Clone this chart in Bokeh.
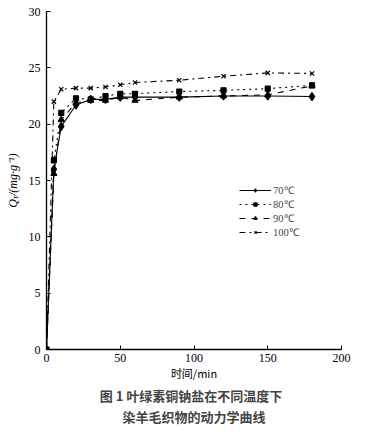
from bokeh.plotting import figure
from bokeh.models import Legend, LegendItem, Title, FixedTicker
from bokeh.embed import file_html
from bokeh.resources import INLINE

time_min = [0, 5, 10, 20, 30, 40, 50, 60, 90, 120, 150, 180]
q_70 = [0, 16.0, 19.8, 21.7, 22.2, 22.2, 22.4, 22.4, 22.4, 22.5, 22.5, 22.45]
q_80 = [0, 16.8, 21.0, 22.3, 22.2, 22.5, 22.7, 22.7, 22.9, 23.0, 23.15, 23.45]
q_90 = [0, 15.6, 20.4, 21.9, 22.1, 22.1, 22.4, 22.1, 22.4, 22.5, 22.6, 23.4]
q_100 = [0, 22.0, 23.1, 23.2, 23.2, 23.3, 23.5, 23.7, 23.9, 24.25, 24.55, 24.5]
series_labels = ["70℃", "80℃", "90℃", "100℃"]
x_ticks = [0, 50, 100, 150, 200]
y_ticks = [0, 5, 10, 15, 20, 25, 30]

SERIF = "Liberation Serif"
CJK = "Noto Sans CJK SC"

p = figure(width=361, height=425, x_range=(0, 200), y_range=(0, 30),
           output_backend="svg", toolbar_location=None,
           min_border_left=46, min_border_right=20, min_border_top=11, min_border_bottom=0)
p.outline_line_color = None
p.grid.grid_line_color = None
p.background_fill_color = "white"
p.border_fill_color = "white"

for ax in (p.xaxis[0], p.yaxis[0]):
    ax.axis_line_color = "black"
    ax.axis_line_width = 1.3
    ax.major_tick_in = 4
    ax.major_tick_out = 0
    ax.minor_tick_line_color = None
    ax.major_label_text_font = SERIF
    ax.major_label_text_font_size = "12px"
    ax.major_label_text_color = "black"
    ax.axis_label_text_color = "black"

p.xaxis[0].ticker = FixedTicker(ticks=x_ticks)
p.yaxis[0].ticker = FixedTicker(ticks=y_ticks)
p.xaxis[0].axis_label = "时间/min"
p.xaxis[0].axis_label_text_font = CJK
p.xaxis[0].axis_label_text_font_size = "11px"
p.xaxis[0].axis_label_text_font_style = "normal"
p.xaxis[0].axis_label_standoff = 0
p.xaxis[0].major_label_standoff = 4
p.yaxis[0].axis_label = "Qₜ/(mg·g⁻¹)"
p.yaxis[0].axis_label_text_font = SERIF
p.yaxis[0].axis_label_text_font_size = "12px"
p.yaxis[0].axis_label_text_font_style = "italic"
p.yaxis[0].axis_label_standoff = 6
p.yaxis[0].major_label_standoff = 6

items = []
specs = [
    (q_70, "solid", "diamond", 8),
    (q_80, "dotted", "square", 5),
    (q_90, "dashed", "triangle", 6),
    (q_100, "dashdot", "x", 6),
]
for (vals, dash, marker, size), lab in zip(specs, series_labels):
    r1 = p.line(time_min, vals, line_color="black", line_width=1.1, line_dash=dash)
    r2 = p.scatter(time_min, vals, marker=marker, size=size, fill_color="black",
                   line_color="black", line_width=1.2)
    items.append(LegendItem(label=lab, renderers=[r1, r2]))

legend = Legend(items=items, location=(193, 110), border_line_color=None,
                background_fill_alpha=0, glyph_width=32, glyph_height=8,
                label_height=8, spacing=0, padding=0, margin=0,
                label_text_font=SERIF, label_text_font_size="10.5px",
                label_text_line_height=0.7, label_standoff=2)
p.add_layout(legend, "center")

t1 = Title(text="图 1   叶绿素铜钠盐在不同温度下", align="center", text_font=CJK,
           text_font_size="13px", text_font_style="bold", standoff=0,
           text_line_height=0.8)
t2 = Title(text="染羊毛织物的动力学曲线", align="center", text_font=CJK,
           text_font_size="13px", text_font_style="bold", standoff=0,
           text_line_height=0.8)
p.add_layout(t1, "below")
p.add_layout(t2, "below")

open("out.html", "w").write(file_html(p, INLINE))
